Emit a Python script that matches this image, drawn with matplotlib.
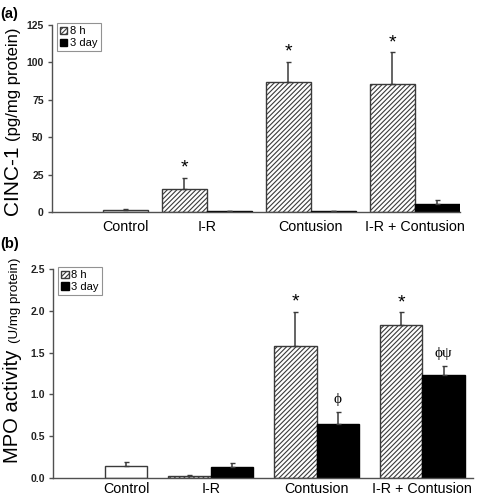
import matplotlib
matplotlib.use("Agg")
import matplotlib.pyplot as plt
from matplotlib.patches import Patch

# === DATA ===
groups = ["I-R", "Contusion", "I-R + Contusion"]

# (a) CINC-1 (pg/mg protein)
cinc_control = 1.5
cinc_control_err = 0.7
cinc_8h = [15.4, 86.7, 85.6]
cinc_8h_err = [7.5, 13.6, 21.1]
cinc_3d = [0.5, 0.8, 5.3]
cinc_3d_err = [0.0, 0.2, 2.5]
cinc_marks_8h = ["*", "*", "*"]
cinc_marks_3d = ["", "", ""]

# (b) MPO activity (U/mg protein)
mpo_control = 0.14
mpo_control_err = 0.05
mpo_8h = [0.02, 1.58, 1.83]
mpo_8h_err = [0.01, 0.41, 0.15]
mpo_3d = [0.13, 0.65, 1.23]
mpo_3d_err = [0.05, 0.14, 0.11]
mpo_marks_8h = ["", "*", "*"]
mpo_marks_3d = ["", "ϕ", "ϕψ"]

# === STYLE ===
plt.rcParams["font.family"] = ["Liberation Sans", "DejaVu Sans"]
plt.rcParams["hatch.linewidth"] = 0.8
plt.rcParams["hatch.color"] = "#333333"
edge = "#3a3a3a"
axis_col = "#505050"
HATCH = "///////"

fig = plt.figure(figsize=(4.78, 5.0), dpi=100)
ax_a = fig.add_axes([52 / 478, 1 - 212 / 500, 408 / 478, 187 / 500])
ax_b = fig.add_axes([53 / 478, 1 - 478 / 500, 420 / 478, 209 / 500])


def panel(ax, ctrl, ctrl_err, v8, e8, v3, e3, m8, m3, start, step, xmax,
          ymax, yticks, fmt, xpad):
    # control bar sits in the second slot of a "group 0"
    ctrl_x = start + 1.5
    ax.bar(ctrl_x, ctrl, width=1, color="white", edgecolor=edge, lw=1)
    ax.errorbar(ctrl_x, ctrl, yerr=[[0], [ctrl_err]], fmt="none",
                ecolor=edge, elinewidth=1.1, capsize=1.8)
    xs8 = [start + step * (i + 1) + 0.5 for i in range(len(v8))]
    xs3 = [x + 1 for x in xs8]
    ax.bar(xs8, v8, width=1, color="white", edgecolor=edge, lw=1,
           hatch=HATCH)
    ax.bar(xs3, v3, width=1, color="black", edgecolor="black", lw=1)
    ax.errorbar(xs8, v8, yerr=[[0] * len(v8), e8], fmt="none",
                ecolor=edge, elinewidth=1.1, capsize=1.8)
    ax.errorbar(xs3, v3, yerr=[[0] * len(v3), e3], fmt="none",
                ecolor=edge, elinewidth=1.1, capsize=1.8)
    for xs, vs, es, ms in [(xs8, v8, e8, m8), (xs3, v3, e3, m3)]:
        for x, v, e, m in zip(xs, vs, es, ms):
            if not m:
                continue
            if m == "*":
                ax.annotate(m, (x, v + e), xytext=(0, 1),
                            textcoords="offset points", ha="center",
                            va="bottom", fontsize=14)
            else:
                ax.annotate(m, (x, v + e), xytext=(0, 4),
                            textcoords="offset points", ha="center",
                            va="bottom", fontsize=11,
                            family=["Liberation Serif", "DejaVu Serif"])
    ax.set_xlim(0, xmax)
    ax.set_ylim(0, ymax)
    ax.set_yticks(yticks)
    ax.set_yticklabels([fmt.format(t) for t in yticks], fontsize=7.5,
                       fontweight="bold", color="#222222")
    ax.set_xticks([ctrl_x] + [x + 0.5 for x in xs8])
    ax.set_xticklabels(["Control"] + groups, fontsize=10.3)
    ax.tick_params(axis="x", length=0, pad=xpad)
    ax.tick_params(axis="y", length=3, width=1, color=axis_col, pad=3)
    for s in ["top", "right"]:
        ax.spines[s].set_visible(False)
    for s in ["left", "bottom"]:
        ax.spines[s].set_color(axis_col)
        ax.spines[s].set_linewidth(1)
    handles = [Patch(facecolor="white", edgecolor=edge, hatch=HATCH),
               Patch(facecolor="black", edgecolor="black")]
    leg = ax.legend(handles, ["8 h", "3 day"], loc="upper left",
                    bbox_to_anchor=(0.012, 1.01), fontsize=8, frameon=True,
                    fancybox=False, handlelength=0.65, handleheight=0.65,
                    handletextpad=0.25, borderpad=0.3, labelspacing=0.15,
                    borderaxespad=0)
    leg.get_frame().set_edgecolor("#777777")
    leg.get_frame().set_linewidth(0.8)


panel(ax_a, cinc_control, cinc_control_err, cinc_8h, cinc_8h_err, cinc_3d,
      cinc_3d_err, cinc_marks_8h, cinc_marks_3d, start=0.13, step=2.31,
      xmax=9.07, ymax=125, yticks=[0, 25, 50, 75, 100, 125], fmt="{:g}",
      xpad=6)
panel(ax_b, mpo_control, mpo_control_err, mpo_8h, mpo_8h_err, mpo_3d,
      mpo_3d_err, mpo_marks_8h, mpo_marks_3d, start=0.22, step=2.49,
      xmax=9.88, ymax=2.5, yticks=[0, 0.5, 1.0, 1.5, 2.0, 2.5],
      fmt="{:.1f}", xpad=3)

# y labels: big name + smaller units, sharing a baseline
kw = dict(rotation=90, rotation_mode="anchor", ha="left", va="baseline")
fig.text(18 / 478, 1 - 215 / 500, "CINC-1", fontsize=15, **kw)
fig.text(18 / 478, 1 - 141 / 500, "(pg/mg protein)", fontsize=12, **kw)
fig.text(18 / 478, 1 - 463 / 500, "MPO activity", fontsize=14.5, **kw)
fig.text(18 / 478, 1 - 343 / 500, "(U/mg protein)", fontsize=9.6, **kw)

# panel tags
fig.text(0, 1 - 18 / 500, "(a)", fontsize=10.5, fontweight="bold")
fig.text(0, 1 - 248 / 500, "(b)", fontsize=10.5, fontweight="bold")

fig.savefig("out.png", dpi=100)
